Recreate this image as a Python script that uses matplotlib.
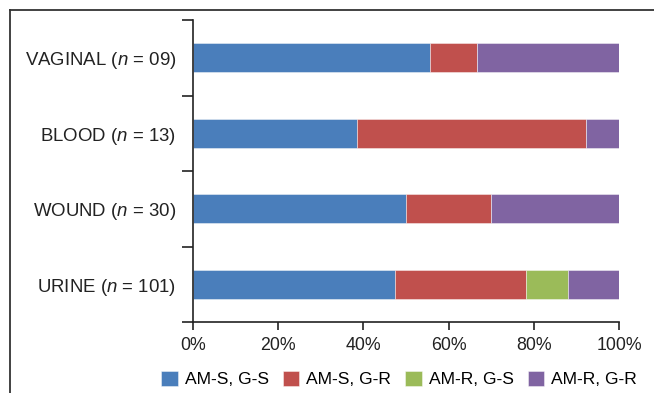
import numpy as np
import matplotlib
matplotlib.use("Agg")
import matplotlib.pyplot as plt
from matplotlib.lines import Line2D

plt.rcParams['font.family'] = ['Liberation Sans', 'DejaVu Sans']
plt.rcParams['mathtext.fontset'] = 'custom'
plt.rcParams['mathtext.it'] = 'Liberation Sans:italic'
plt.rcParams['mathtext.rm'] = 'Liberation Sans'

# bottom to top
sources = ["URINE", "WOUND", "BLOOD", "VAGINAL"]
n_labels = ["101", "30", "13", "09"]
series = ["AM-S, G-S", "AM-S, G-R", "AM-R, G-S", "AM-R, G-R"]
counts = np.array([
    [48, 31, 10, 12],   # urine
    [15, 6, 0, 9],      # wound
    [5, 7, 0, 1],       # blood
    [5, 1, 0, 3],       # vaginal
], dtype=float)
colors = ["#4A7EBB", "#C0504D", "#9BBB59", "#8064A2"]

pct = counts / counts.sum(axis=1, keepdims=True) * 100

fig = plt.figure(figsize=(6.54, 3.93), dpi=100)
ax = fig.add_axes([193/654, 1-322/393, (619-193)/654, (322-20)/393])

y = np.arange(len(sources))
left = np.zeros(len(sources))
for j, name in enumerate(series):
    ax.barh(y, pct[:, j], left=left, height=0.39, color=colors[j],
            edgecolor=(1, 1, 1, 0.5), linewidth=0.6, label=name)
    left += pct[:, j]

ax.set_xlim(0, 100)
ax.set_ylim(-0.5, 3.5)
ax.set_xticks(np.arange(0, 101, 20))
ax.set_xticklabels(["%d%%" % v for v in range(0, 101, 20)])
ax.set_yticks(y)
ax.set_yticklabels([r"%s ($\mathit{n}$ = %s)" % (s, n) for s, n in zip(sources, n_labels)])
ax.set_yticks(np.arange(-0.5, 3.6, 1), minor=True)
ax.tick_params(axis='y', which='major', length=0, pad=12, labelsize=13.4, colors='#222222')
ax.tick_params(axis='y', which='minor', length=8, width=1.2, color='#222222')
ax.tick_params(axis='x', length=6, width=1.2, pad=5, labelsize=12.8, colors='#222222')
for s in ['top', 'right']:
    ax.spines[s].set_visible(False)
for s in ['left', 'bottom']:
    ax.spines[s].set_linewidth(1.2)
    ax.spines[s].set_color('#222222')

fig.legend(loc='center', bbox_to_anchor=(0.61, 1-379/393), ncol=4, frameon=False,
           fontsize=12.6, handlelength=0.95, handleheight=0.95, handletextpad=0.4,
           columnspacing=0.8, borderaxespad=0)

# outer frame (cropped at right and bottom)
fig.add_artist(Line2D([10/654, 10/654], [0, 1-10/393], transform=fig.transFigure,
                      color='#333333', linewidth=1.3))
fig.add_artist(Line2D([10/654, 1], [1-10/393, 1-10/393], transform=fig.transFigure,
                      color='#333333', linewidth=1.3))

fig.savefig("out.png", dpi=100)
